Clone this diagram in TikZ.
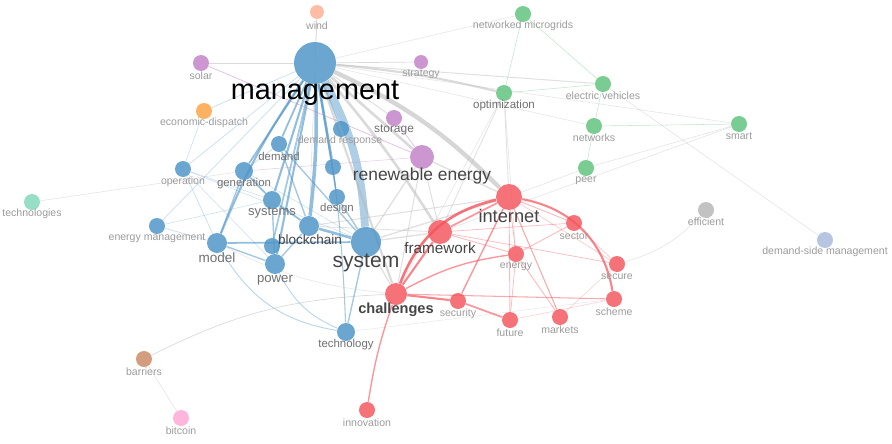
\documentclass[tikz,border=0pt]{standalone}
\usepackage{fontspec}
\setmainfont{Liberation Sans}
\usetikzlibrary{backgrounds}
\definecolor{cblue}{HTML}{4A93C6}
\definecolor{cred}{HTML}{F4535B}
\definecolor{cgreen}{HTML}{5CC27A}
\definecolor{cpurple}{HTML}{C17FC6}
\definecolor{corange}{HTML}{FFA03F}
\definecolor{csalmon}{HTML}{FFAF93}
\definecolor{cteal}{HTML}{7FD8BA}
\definecolor{cgrey}{HTML}{B5B5B5}
\definecolor{clav}{HTML}{A7B8DC}
\definecolor{cbrown}{HTML}{C98763}
\definecolor{cpink}{HTML}{FFA6D5}
\definecolor{ltext}{HTML}{9B9B9B}
\definecolor{mtext}{HTML}{707070}
\definecolor{dtext}{HTML}{454545}
\tikzset{
  kw/.style={circle, fill=#1, fill opacity=0.82, inner sep=0pt},
  rad/.style={minimum size=#1*0.4mm},
  lbl/.style={font=\fontsize{#1}{#1}\selectfont, text=ltext, inner sep=0pt},
  lbl/.default=6,
  be/.style={draw=cblue, line width=#1},
  ge/.style={draw=cgrey, line width=#1},
  re/.style={draw=cred, line width=#1},
}

\begin{document}
\begin{tikzpicture}[x=0.02cm, y=-0.02cm]
  \useasboundingbox (0,0) rectangle (892,443);
  % keywords, placed at pixel positions of the map
  \node[kw=cblue, rad=21] (mgmt) at (315,63) {};
  \node[kw=csalmon, rad=7] (wind) at (317,12) {};
  \node[kw=cpurple, rad=8] (solar) at (201,63) {};
  \node[kw=corange, rad=8] (ecodisp) at (204,111) {};
  \node[kw=cpurple, rad=7] (strategy) at (421,62) {};
  \node[kw=cgreen, rad=8] (netmicro) at (523,14) {};
  \node[kw=cgreen, rad=8] (optim) at (504,93) {};
  \node[kw=cgreen, rad=8] (ev) at (603,84) {};
  \node[kw=cgreen, rad=8] (networks) at (594,126) {};
  \node[kw=cgreen, rad=8] (smart) at (739,124) {};
  \node[kw=cgreen, rad=8] (peer) at (586,168) {};
  \node[kw=cpurple, rad=8] (storage) at (394,118) {};
  \node[kw=cblue, rad=8] (dresp) at (341,129) {};
  \node[kw=cblue, rad=8] (demand) at (279,144) {};
  \node[kw=cpurple, rad=12] (renew) at (422,157) {};
  \node[kw=cblue, rad=8] (operation) at (183,169) {};
  \node[kw=cblue, rad=9] (gener) at (244,171) {};
  \node[kw=cblue, rad=8] (bnode) at (333,167) {};
  \node[kw=cblue, rad=8] (design) at (337,197) {};
  \node[kw=cblue, rad=9] (systems) at (272,200) {};
  \node[kw=cteal, rad=8] (techs) at (32,202) {};
  \node[kw=cred, rad=13] (internet) at (509,197) {};
  \node[kw=cred, rad=8] (sector) at (574,223) {};
  \node[kw=cgrey, rad=8] (efficient) at (706,210) {};
  \node[kw=cblue, rad=8] (emgmt) at (157,226) {};
  \node[kw=cblue, rad=10] (model) at (217,243) {};
  \node[kw=cblue, rad=10] (blockchain) at (309,226) {};
  \node[kw=cblue, rad=15] (system) at (366,242) {};
  \node[kw=cred, rad=12] (framework) at (440,232) {};
  \node[kw=cred, rad=8] (energy) at (516,254) {};
  \node[kw=clav, rad=8] (dsm) at (825,240) {};
  \node[kw=cblue, rad=8] (bnode2) at (272,246) {};
  \node[kw=cblue, rad=10] (power) at (275,264) {};
  \node[kw=cred, rad=8] (secure) at (617,264) {};
  \node[kw=cred, rad=11] (challenges) at (396,294) {};
  \node[kw=cred, rad=8] (security) at (458,301) {};
  \node[kw=cred, rad=8] (scheme) at (614,299) {};
  \node[kw=cred, rad=8] (future) at (510,320) {};
  \node[kw=cred, rad=8] (markets) at (560,317) {};
  \node[kw=cblue, rad=9] (technology) at (346,332) {};
  \node[kw=cbrown, rad=8] (barriers) at (144,359) {};
  \node[kw=cpink, rad=8] (bitcoin) at (181,418) {};
  \node[kw=cred, rad=8] (innovation) at (367,410) {};

  \begin{scope}[on background layer]
    % management cluster (blue)
    \draw[be=4.5, opacity=0.45] (mgmt) to[bend left=12] (system);
    \draw[be=2, opacity=0.6] (mgmt) to[bend left=4] (blockchain);
    \draw[be=1.2, opacity=0.6] (mgmt) to[bend right=6] (model);
    \draw[be=1.2, opacity=0.6] (mgmt) -- (power);
    \draw[be=1.2, opacity=0.6] (mgmt) -- (systems);
    \draw[be=1, opacity=0.6] (mgmt) -- (gener);
    \draw[be=1, opacity=0.6] (mgmt) -- (demand);
    \draw[be=1.5, opacity=0.6] (mgmt) -- (bnode);
    \draw[be=0.8, opacity=0.5] (mgmt) -- (design);
    \draw[be=0.8, opacity=0.5] (mgmt) -- (dresp);
    \draw[be=1, opacity=0.5] (mgmt) -- (bnode2);
    \draw[be=0.6, opacity=0.5] (mgmt) to[bend left=4] (technology);
    \draw[be=0.4, opacity=0.3] (mgmt) -- (operation);
    \draw[be=0.4, opacity=0.3] (mgmt) -- (emgmt);
    \draw[be=0.4, opacity=0.3] (mgmt) -- (ecodisp);
    \draw[be=1.5, opacity=0.6] (system) -- (blockchain);
    \draw[be=1, opacity=0.6] (model) -- (system);
    \draw[be=1, opacity=0.6] (gener) -- (systems);
    \draw[be=1, opacity=0.6] (systems) -- (blockchain);
    \draw[be=0.8, opacity=0.5] (blockchain) -- (power);
    \draw[be=0.8, opacity=0.5] (model) -- (power);
    \draw[be=0.8, opacity=0.5] (systems) -- (power);
    \draw[be=1, opacity=0.6] (power) -- (bnode2);
    \draw[be=0.8, opacity=0.5] (demand) -- (system);
    \draw[be=0.8, opacity=0.5] (design) -- (system);
    \draw[be=0.6, opacity=0.5] (bnode) -- (design);
    \draw[be=0.8, opacity=0.5] (system) -- (technology);
    \draw[be=0.5, opacity=0.4] (model) to[bend right=25] (technology);
    \draw[be=0.5, opacity=0.4] (power) to[bend right=20] (technology);
    \draw[be=0.8, opacity=0.5] (gener) -- (model);
    \draw[be=0.4, opacity=0.3] (demand) -- (gener);
    \draw[be=0.8, opacity=0.5] (demand) -- (blockchain);
    \draw[be=0.4, opacity=0.3] (emgmt) -- (model);
    \draw[be=0.4, opacity=0.3] (operation) -- (model);
    \draw[be=0.3, opacity=0.3] (operation) -- (power);
    \draw[be=0.3, opacity=0.3] (operation) -- (systems);
    \draw[be=0.3, opacity=0.3] (emgmt) -- (systems);
    \draw[be=0.3, opacity=0.3] (ecodisp) -- (operation);
    \draw[be=0.3, opacity=0.3] (operation) -- (system);
    \draw[be=0.3, opacity=0.3] (gener) -- (system);
    % storage and renewables (purple)
    \draw[draw=cpurple, line width=0.4, opacity=0.5] (solar) -- (renew);
    \draw[draw=cpurple, line width=0.4, opacity=0.5] (storage) -- (renew);
    \draw[draw=cpurple, line width=0.3, opacity=0.4] (gener) -- (renew);
    \draw[ge=0.4, opacity=0.5] (solar) -- (mgmt);
    \draw[ge=0.4, opacity=0.5] (wind) -- (mgmt);
    \draw[ge=0.4, opacity=0.5] (strategy) -- (mgmt);
    \draw[ge=0.3, opacity=0.4] (wind) -- (blockchain);
    % links across clusters (grey)
    \draw[ge=2.5, opacity=0.55] (mgmt) to[bend left=10] (internet);
    \draw[ge=1.5, opacity=0.5] (mgmt) to[bend left=4] (framework);
    \draw[ge=1.2, opacity=0.5] (mgmt) -- (challenges);
    \draw[ge=1.5, opacity=0.5] (mgmt) -- (renew);
    \draw[ge=1.2, opacity=0.5] (mgmt) to[bend left=4] (optim);
    \draw[ge=0.6, opacity=0.4] (mgmt) -- (ev);
    \draw[ge=0.4, opacity=0.3] (mgmt) -- (netmicro);
    \draw[ge=0.4, opacity=0.3] (mgmt) -- (networks);
    \draw[ge=0.6, opacity=0.4] (mgmt) -- (storage);
    \draw[ge=0.4, opacity=0.3] (mgmt) -- (smart);
    \draw[ge=0.8, opacity=0.4] (system) -- (internet);
    \draw[ge=0.8, opacity=0.4] (system) -- (framework);
    \draw[ge=0.8, opacity=0.4] (system) -- (challenges);
    \draw[ge=0.8, opacity=0.4] (system) -- (renew);
    \draw[ge=0.6, opacity=0.4] (blockchain) -- (internet);
    \draw[ge=0.5, opacity=0.4] (blockchain) -- (framework);
    \draw[ge=0.8, opacity=0.4] (renew) -- (internet);
    \draw[ge=0.6, opacity=0.4] (renew) -- (framework);
    \draw[ge=0.6, opacity=0.4] (renew) -- (challenges);
    \draw[ge=0.5, opacity=0.4] (optim) -- (internet);
    \draw[ge=0.5, opacity=0.4] (optim) -- (framework);
    \draw[ge=0.4, opacity=0.3] (optim) -- (challenges);
    \draw[ge=0.4, opacity=0.3] (model) to[bend right=10] (challenges);
    \draw[ge=0.3, opacity=0.3] (technology) -- (scheme);
    % green cluster
    \draw[draw=cgreen, line width=0.3, opacity=0.4] (optim) -- (netmicro);
    \draw[draw=cgreen, line width=0.3, opacity=0.4] (optim) -- (ev);
    \draw[draw=cgreen, line width=0.3, opacity=0.4] (netmicro) -- (ev);
    \draw[draw=cgreen, line width=0.3, opacity=0.4] (ev) -- (networks);
    \draw[draw=cgreen, line width=0.3, opacity=0.4] (networks) -- (peer);
    \draw[draw=cgreen, line width=0.3, opacity=0.4] (networks) -- (smart);
    \draw[ge=0.3, opacity=0.4] (peer) -- (smart);
    \draw[ge=0.3, opacity=0.4] (smart) -- (framework);
    \draw[ge=0.3, opacity=0.4] (peer) -- (internet);
    \draw[ge=0.3, opacity=0.4] (optim) -- (energy);
    \draw[ge=0.3, opacity=0.4] (ev) -- (dsm);
    \draw[ge=0.3, opacity=0.4] (efficient) to[bend left=15] (secure);
    \draw[ge=0.4, opacity=0.5] (barriers) to[bend left=12] (challenges);
    \draw[ge=0.3, opacity=0.4] (barriers) -- (bitcoin);
    \draw[ge=0.3, opacity=0.4] (techs) -- (gener);
    % internet cluster (red)
    \draw[re=1.5, opacity=0.8] (challenges) to[bend left=28] (internet);
    \draw[re=1.2, opacity=0.7] (framework) -- (challenges);
    \draw[re=1, opacity=0.6] (framework) -- (internet);
    \draw[re=1.2, opacity=0.7] (internet) to[bend left=35] (scheme);
    \draw[re=1.2, opacity=0.7] (challenges) -- (security);
    \draw[re=1, opacity=0.6] (security) -- (future);
    \draw[re=0.8, opacity=0.6] (challenges) to[bend left=10] (energy);
    \draw[re=0.6, opacity=0.5] (challenges) -- (scheme);
    \draw[re=0.8, opacity=0.6] (challenges) to[bend right=5] (innovation);
    \draw[re=0.8, opacity=0.6] (internet) -- (security);
    \draw[re=0.6, opacity=0.5] (internet) -- (markets);
    \draw[re=0.5, opacity=0.4] (internet) -- (energy);
    \draw[re=0.5, opacity=0.4] (internet) -- (future);
    \draw[re=0.5, opacity=0.4] (internet) -- (sector);
    \draw[re=0.4, opacity=0.4] (energy) -- (future);
    \draw[re=0.5, opacity=0.4] (energy) -- (markets);
    \draw[re=0.5, opacity=0.4] (energy) -- (sector);
    \draw[re=0.4, opacity=0.4] (framework) -- (sector);
    \draw[re=0.4, opacity=0.4] (framework) -- (secure);
    \draw[re=0.5, opacity=0.4] (framework) -- (energy);
    \draw[re=0.4, opacity=0.3] (internet) -- (secure);
    \draw[re=0.4, opacity=0.3] (sector) -- (secure);
    \draw[re=0.3, opacity=0.3] (markets) -- (secure);
    \draw[re=0.3, opacity=0.3] (future) -- (scheme);
  \end{scope}

  % labels
  \node[lbl=16.4, text=black] (mgmt-l) at (315,93) {management};
  \node[lbl] (wind-l) at (317,26) {wind};
  \node[lbl] (solar-l) at (201,76) {solar};
  \node[lbl] (ecodisp-l) at (204,123) {economic-dispatch};
  \node[lbl] (strategy-l) at (421,74) {strategy};
  \node[lbl] (netmicro-l) at (523,26) {networked microgrids};
  \node[lbl=6.6, text=mtext] (optim-l) at (504,105) {optimization};
  \node[lbl] (ev-l) at (603,96) {electric vehicles};
  \node[lbl] (networks-l) at (594,138) {networks};
  \node[lbl] (smart-l) at (739,136) {smart};
  \node[lbl] (peer-l) at (586,181) {peer};
  \node[lbl=6.8, text=mtext] (storage-l) at (394,130) {storage};
  \node[lbl] (dresp-l) at (340,141) {demand response};
  \node[lbl=6.5, text=mtext] (demand-l) at (279,156) {demand};
  \node[lbl=9.9, text=dtext] (renew-l) at (422,176) {renewable energy};
  \node[lbl] (operation-l) at (183,182) {operation};
  \node[lbl=6.5, text=mtext] (gener-l) at (244,184) {generation};
  \node[lbl=6.5, text=mtext] (design-l) at (337,209) {design};
  \node[lbl=7.4, text=mtext] (systems-l) at (272,213) {systems};
  \node[lbl] (techs-l) at (32,214) {technologies};
  \node[lbl=10.4, text=dtext] (internet-l) at (509,216) {internet};
  \node[lbl] (sector-l) at (574,236) {sector};
  \node[lbl] (efficient-l) at (706,222) {efficient};
  \node[lbl] (emgmt-l) at (157,238) {energy management};
  \node[lbl=7.7, text=mtext] (model-l) at (217,258) {model};
  \node[lbl=7.7, text=dtext] (blockchain-l) at (310,240) {blockchain};
  \node[lbl=12, text=dtext] (system-l) at (366,263) {system};
  \node[lbl=8.7, text=dtext] (framework-l) at (440,248) {framework};
  \node[lbl] (energy-l) at (516,267) {energy};
  \node[lbl] (dsm-l) at (825,252) {demand-side management};
  \node[lbl=7.5, text=mtext] (power-l) at (275,280) {power};
  \node[lbl] (secure-l) at (617,277) {secure};
  \node[lbl=8.3, text=dtext, font=\fontsize{8.3}{8.3}\selectfont\bfseries] (challenges-l) at (396,310) {challenges};
  \node[lbl] (security-l) at (458,314) {security};
  \node[lbl] (scheme-l) at (614,312) {scheme};
  \node[lbl] (future-l) at (510,333) {future};
  \node[lbl] (markets-l) at (560,330) {markets};
  \node[lbl=6.5, text=mtext] (technology-l) at (346,345) {technology};
  \node[lbl] (barriers-l) at (144,372) {barriers};
  \node[lbl] (bitcoin-l) at (181,431) {bitcoin};
  \node[lbl] (innovation-l) at (367,423) {innovation};
\end{tikzpicture}
\end{document}
